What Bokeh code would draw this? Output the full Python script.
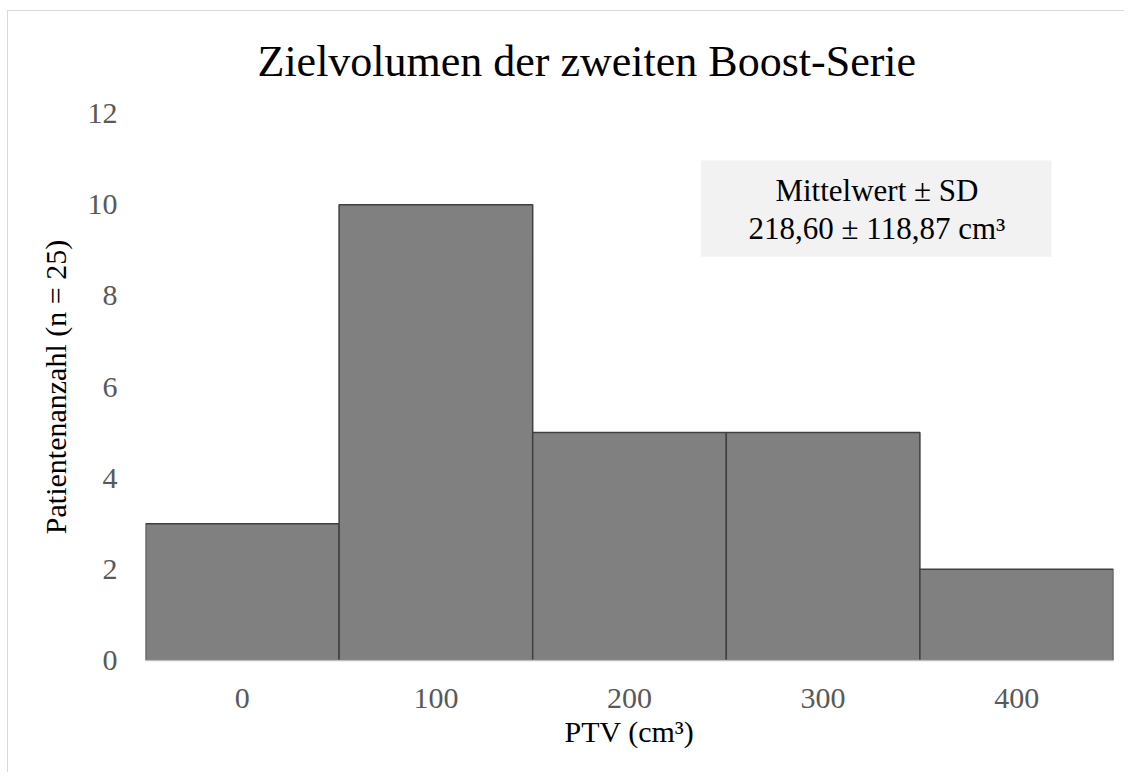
from bokeh.plotting import figure
from bokeh.models import FixedTicker, Range1d, BoxAnnotation, Label
from bokeh.embed import file_html
from bokeh.resources import INLINE

bin_centers = [0, 100, 200, 300, 400]
counts = [3, 10, 5, 5, 2]
bin_width = 100
y_ticks = [0, 2, 4, 6, 8, 10, 12]

FONT = "Liberation Serif"

p = figure(width=1117, height=762, output_backend="svg", toolbar_location=None,
           x_range=Range1d(-50, 450), y_range=Range1d(0, 12),
           min_border_left=137, min_border_right=12, min_border_top=102, min_border_bottom=113,
           title="Zielvolumen der zweiten Boost-Serie")
p.styles = {"border-left": "1px solid #d9d9d9", "border-top": "1px solid #d9d9d9",
            "margin-left": "7px", "margin-top": "10px"}

p.title.align = "left"
p.title.offset = 112
p.title.text_font = FONT
p.title.text_font_size = "44px"
p.title.text_font_style = "normal"
p.title.text_color = "#000000"
p.title.vertical_align = "top"
p.title.standoff = 51

p.quad(left=[c - bin_width / 2 for c in bin_centers], right=[c + bin_width / 2 for c in bin_centers],
       bottom=0, top=counts, fill_color="#808080", line_color="#404040", line_width=1.5)

p.grid.visible = False
p.outline_line_color = None

p.xaxis.ticker = FixedTicker(ticks=bin_centers)
p.yaxis.ticker = FixedTicker(ticks=y_ticks)
for ax in (p.xaxis[0], p.yaxis[0]):
    ax.major_tick_line_color = None
    ax.minor_tick_line_color = None
    ax.major_label_text_font = FONT
    ax.major_label_text_font_size = "30px"
    ax.major_label_text_color = "#595959"
    ax.axis_label_text_font = FONT
    ax.axis_label_text_font_size = "30px"
    ax.axis_label_text_font_style = "normal"
    ax.axis_label_text_color = "#000000"
p.yaxis.axis_line_color = None
p.xaxis.axis_line_color = "#bfbfbf"
p.xaxis.axis_line_width = 1.5
p.xaxis.major_label_standoff = 22
p.yaxis.major_label_standoff = 22
p.xaxis.axis_label = "PTV (cm³)"
p.yaxis.axis_label = "Patientenanzahl (n = 25)"
p.xaxis.axis_label_standoff = 4
p.yaxis.axis_label_standoff = 13

p.add_layout(BoxAnnotation(left=237, right=418, bottom=8.86, top=10.97,
                           fill_color="#f2f2f2", fill_alpha=1, line_color=None))
for txt, yy in (("Mittelwert ± SD", 10.31), ("218,60 ± 118,87 cm³", 9.48)):
    p.add_layout(Label(x=327.8, y=yy, text=txt, text_align="center", text_baseline="middle",
                       text_font=FONT, text_font_size="31px", text_color="#000000"))

open("out.html", "w").write(file_html(p, INLINE))
